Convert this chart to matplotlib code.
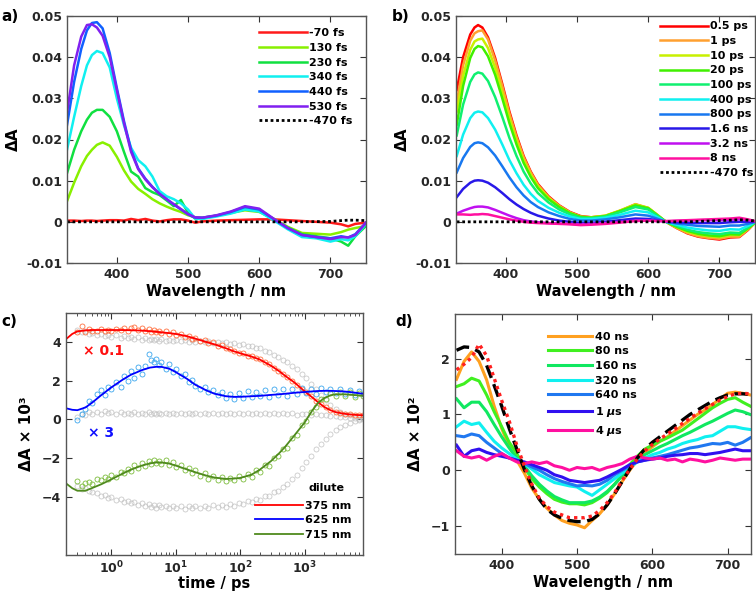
import matplotlib.pyplot as plt
import numpy as np

plt.rcParams['font.family'] = ['DejaVu Sans']
plt.rcParams['font.weight'] = 'bold'
plt.rcParams['axes.labelweight'] = 'bold'

# ---------------- panel a: early fs spectra ----------------
wl_a = [330, 340, 350, 358, 365, 372, 380, 390, 400, 410, 420, 430, 440, 450, 460, 470, 480,
        490, 500, 510, 520, 540, 560, 580, 600, 620, 640, 660, 680, 700, 715, 725, 735, 750]
labels_a = ['-70 fs', '130 fs', '230 fs', '340 fs', '440 fs', '530 fs']
colors_a = ['#ff1a1a', '#88f000', '#10e040', '#10f0f0', '#1060ff', '#8020f0']
spec_a = [
    [0.0003, 0.0003, 0.0002, 0.0003, 0.0003, 0.0002, 0.0003, 0.0004, 0.0004, 0.0003, 0.0007, 0.0004,
     0.0007, 0.0003, 0.0001, 0.0004, 0.0006, 0.0006, 0.0003, -0.0002, 0.0001, 0.0003, 0.0004, 0.0005,
     0.0006, 0.0006, 0.0004, 0.0002, 0.0000, -0.0002, -0.0006, -0.0011, -0.0005, -0.0002],
    [0.0050, 0.0095, 0.0135, 0.0160, 0.0175, 0.0187, 0.0193, 0.0185, 0.0158, 0.0125, 0.0098, 0.0080,
     0.0068, 0.0055, 0.0045, 0.0037, 0.0030, 0.0024, 0.0016, 0.0011, 0.0010, 0.0015, 0.0022, 0.0028,
     0.0024, 0.0008, -0.0012, -0.0027, -0.0029, -0.0031, -0.0025, -0.0019, -0.0015, -0.0010],
    [0.0118, 0.0175, 0.0220, 0.0248, 0.0265, 0.0272, 0.0272, 0.0255, 0.0220, 0.0170, 0.0122, 0.0110,
     0.0082, 0.0072, 0.0065, 0.0052, 0.0038, 0.0053, 0.0022, 0.0008, 0.0008, 0.0015, 0.0022, 0.0030,
     0.0026, 0.0006, -0.0014, -0.0030, -0.0035, -0.0040, -0.0048, -0.0058, -0.0035, -0.0010],
    [0.0175, 0.0255, 0.0330, 0.0380, 0.0405, 0.0415, 0.0410, 0.0375, 0.0300, 0.0235, 0.0180, 0.0150,
     0.0135, 0.0110, 0.0075, 0.0062, 0.0055, 0.0045, 0.0030, 0.0008, 0.0007, 0.0013, 0.0020, 0.0030,
     0.0025, 0.0004, -0.0018, -0.0037, -0.0040, -0.0048, -0.0042, -0.0045, -0.0035, -0.0005],
    [0.0235, 0.0340, 0.0420, 0.0465, 0.0483, 0.0485, 0.0470, 0.0410, 0.0325, 0.0245, 0.0175, 0.0130,
     0.0105, 0.0085, 0.0068, 0.0055, 0.0042, 0.0030, 0.0018, 0.0010, 0.0010, 0.0015, 0.0024, 0.0036,
     0.0030, 0.0007, -0.0015, -0.0032, -0.0037, -0.0040, -0.0035, -0.0038, -0.0030, -0.0002],
    [0.0265, 0.0380, 0.0450, 0.0478, 0.0480, 0.0472, 0.0452, 0.0400, 0.0320, 0.0240, 0.0170, 0.0128,
     0.0103, 0.0084, 0.0068, 0.0055, 0.0043, 0.0031, 0.0019, 0.0011, 0.0010, 0.0016, 0.0025, 0.0038,
     0.0032, 0.0008, -0.0015, -0.0032, -0.0037, -0.0042, -0.0037, -0.0038, -0.0032, -0.0002],
]
ref_a = [0, 0, 0, 0, 0, 0, 0, 0, 0, 0, 0, 0, 0, 0, 0, 0, 0, 0, 0, 0, 0, 0, 0, 0, 0, 0, 0, 0,
         0.00005, 0.0001, 0.0003, 0.0004, 0.0004, 0.0003]

# ---------------- panel b: ps-ns spectra ----------------
wl_b = [331, 340, 350, 356, 361, 367, 375, 385, 395, 405, 415, 425, 435, 445, 460, 475, 490,
        505, 520, 540, 560, 582, 600, 612, 625, 640, 655, 670, 685, 700, 715, 728, 740, 750]
labels_b = ['0.5 ps', '1 ps', '10 ps', '20 ps', '100 ps', '400 ps', '800 ps', '1.6 ns', '3.2 ns', '8 ns']
colors_b = ['#ff0000', '#ffa030', '#c8f000', '#40f000', '#10f070', '#10f0f0', '#1878f0', '#2818e8',
            '#c010f0', '#ff10a0']
spec_b = [
    [0.0320, 0.0400, 0.0455, 0.0472, 0.0478, 0.0472, 0.0448, 0.0398, 0.0335, 0.0268, 0.0210, 0.0160,
     0.0122, 0.0092, 0.0062, 0.0040, 0.0024, 0.0014, 0.0011, 0.0014, 0.0026, 0.0042, 0.0033, 0.0017,
     0.0000, -0.0015, -0.0028, -0.0036, -0.0040, -0.0043, -0.0038, -0.0037, -0.0020, -0.0002],
    [0.0290, 0.0380, 0.0440, 0.0458, 0.0463, 0.0465, 0.0443, 0.0392, 0.0330, 0.0263, 0.0206, 0.0157,
     0.0120, 0.0090, 0.0060, 0.0039, 0.0023, 0.0013, 0.0011, 0.0015, 0.0027, 0.0043, 0.0034, 0.0018,
     0.0000, -0.0015, -0.0027, -0.0035, -0.0039, -0.0041, -0.0036, -0.0036, -0.0019, -0.0002],
    [0.0268, 0.0355, 0.0418, 0.0438, 0.0443, 0.0445, 0.0422, 0.0374, 0.0314, 0.0251, 0.0196, 0.0149,
     0.0114, 0.0086, 0.0058, 0.0037, 0.0022, 0.0012, 0.0011, 0.0015, 0.0027, 0.0042, 0.0034, 0.0018,
     0.0000, -0.0013, -0.0024, -0.0031, -0.0035, -0.0037, -0.0032, -0.0032, -0.0017, -0.0002],
    [0.0235, 0.0330, 0.0398, 0.0420, 0.0427, 0.0424, 0.0402, 0.0357, 0.0300, 0.0240, 0.0188, 0.0143,
     0.0109, 0.0082, 0.0055, 0.0036, 0.0021, 0.0012, 0.0010, 0.0014, 0.0026, 0.0040, 0.0033, 0.0017,
     0.0000, -0.0012, -0.0022, -0.0029, -0.0033, -0.0035, -0.0030, -0.0031, -0.0016, -0.0002],
    [0.0210, 0.0285, 0.0340, 0.0358, 0.0363, 0.0360, 0.0342, 0.0303, 0.0255, 0.0204, 0.0160, 0.0122,
     0.0093, 0.0070, 0.0047, 0.0030, 0.0018, 0.0010, 0.0009, 0.0013, 0.0023, 0.0036, 0.0030, 0.0016,
     0.0000, -0.0010, -0.0019, -0.0025, -0.0028, -0.0030, -0.0026, -0.0027, -0.0014, -0.0001],
    [0.0160, 0.0212, 0.0252, 0.0265, 0.0268, 0.0266, 0.0252, 0.0224, 0.0188, 0.0150, 0.0118, 0.0090,
     0.0068, 0.0051, 0.0034, 0.0022, 0.0013, 0.0007, 0.0007, 0.0010, 0.0017, 0.0027, 0.0023, 0.0012,
     0.0000, -0.0007, -0.0014, -0.0018, -0.0021, -0.0022, -0.0018, -0.0019, -0.0010, -0.0001],
    [0.0120, 0.0155, 0.0182, 0.0191, 0.0193, 0.0191, 0.0181, 0.0161, 0.0135, 0.0108, 0.0084, 0.0064,
     0.0048, 0.0036, 0.0023, 0.0014, 0.0007, 0.0003, 0.0003, 0.0006, 0.0011, 0.0018, 0.0015, 0.0008,
     0.0000, -0.0004, -0.0007, -0.0010, -0.0011, -0.0012, -0.0009, -0.0009, -0.0005, 0.0000],
    [0.0060, 0.0080, 0.0095, 0.0100, 0.0101, 0.0100, 0.0095, 0.0084, 0.0070, 0.0055, 0.0042, 0.0031,
     0.0022, 0.0015, 0.0008, 0.0003, 0.0000, -0.0003, -0.0003, 0.0000, 0.0004, 0.0008, 0.0007, 0.0004,
     0.0001, -0.0001, -0.0002, -0.0003, -0.0003, -0.0003, -0.0001, 0.0000, 0.0000, 0.0000],
    [0.0020, 0.0027, 0.0033, 0.0036, 0.0037, 0.0037, 0.0035, 0.0029, 0.0022, 0.0015, 0.0009, 0.0004,
     0.0001, -0.0001, -0.0003, -0.0004, -0.0005, -0.0006, -0.0005, -0.0003, 0.0000, 0.0003, 0.0003,
     0.0002, 0.0001, 0.0002, 0.0003, 0.0004, 0.0004, 0.0004, 0.0005, 0.0006, 0.0004, 0.0001],
    [0.0018, 0.0018, 0.0017, 0.0018, 0.0018, 0.0019, 0.0018, 0.0014, 0.0010, 0.0006, 0.0003, 0.0000,
     -0.0002, -0.0003, -0.0004, -0.0005, -0.0006, -0.0008, -0.0007, -0.0005, -0.0002, 0.0002, 0.0003,
     0.0002, 0.0002, 0.0003, 0.0004, 0.0005, 0.0006, 0.0007, 0.0008, 0.0010, 0.0006, 0.0002],
]
ref_b = [0, 0, 0, 0, 0, 0, 0, 0, 0, 0, 0, 0, 0, 0, 0, 0, 0, 0, 0, 0, 0, 0, 0, 0, 0, 0, 0,
         0.0001, 0.0002, 0.0003, 0.0004, 0.0005, 0.0004, 0.0002]

# ---------------- panel c: kinetics ----------------
t_pts = [0.3, 0.35, 0.4, 0.45, 0.5, 0.6, 0.7, 0.8, 0.9, 1.0,
         1.2, 1.4, 1.6, 1.8, 2.0, 2.3, 2.6, 3.0, 3.4, 3.8,
         4.2, 4.6, 5.0, 5.5, 6, 7, 8, 9, 10, 12,
         14, 16, 18, 20, 24, 28, 32, 38, 45, 52,
         60, 70, 80, 95, 110, 130, 150, 175, 200, 240,
         280, 330, 390, 460, 540, 640, 760, 900, 1050, 1250,
         1500, 1800, 2100, 2500, 3000, 3500, 4200, 5000, 6000, 7000,
         8000]
red_pts = [4.50, 4.85, 4.52, 4.66, 4.58, 4.55, 4.68, 4.57, 4.64, 4.55,
           4.66, 4.60, 4.70, 4.58, 4.72, 4.80, 4.62, 4.70, 4.55, 4.65,
           4.52, 4.62, 4.50, 4.58, 4.45, 4.55, 4.42, 4.50, 4.38, 4.40,
           4.28, 4.30, 4.18, 4.22, 4.05, 4.08, 3.95, 3.98, 3.82, 3.85,
           3.70, 3.62, 3.55, 3.45, 3.42, 3.30, 3.28, 3.15, 3.12, 2.95,
           2.85, 2.68, 2.50, 2.35, 2.18, 2.00, 1.80, 1.58, 1.40, 1.20,
           0.98, 0.78, 0.62, 0.50, 0.40, 0.34, 0.30, 0.26, 0.24, 0.22,
           0.22]
blue_pts = [-0.05, 0.30, 0.55, 0.95, 0.85, 1.30, 1.50, 1.25, 1.70, 1.55,
            1.95, 1.70, 2.25, 2.00, 2.50, 2.15, 2.70, 2.35, 2.75, 3.40,
            3.05, 2.95, 3.10, 2.80, 2.95, 2.60, 2.85, 2.45, 2.60, 2.25,
            2.35, 1.95, 2.05, 1.75, 1.60, 1.70, 1.40, 1.50, 1.25, 1.40,
            1.10, 1.30, 1.05, 1.35, 1.10, 1.45, 1.15, 1.40, 1.20, 1.50,
            1.15, 1.55, 1.25, 1.60, 1.20, 1.55, 1.30, 1.65, 1.35, 1.60,
            1.30, 1.65, 1.40, 1.60, 1.35, 1.55, 1.30, 1.50, 1.25, 1.45,
            1.30]
green_pts = [-3.20, -3.45, -3.30, -3.25, -3.35, -3.05, -3.15, -2.95, -3.05, -2.85,
             -2.95, -2.70, -2.75, -2.55, -2.65, -2.35, -2.50, -2.25, -2.40, -2.15,
             -2.30, -2.10, -2.25, -2.15, -2.30, -2.10, -2.35, -2.20, -2.45, -2.35,
             -2.60, -2.50, -2.75, -2.60, -2.90, -2.75, -3.05, -2.90, -3.15, -2.95,
             -3.20, -3.00, -3.15, -2.90, -3.10, -2.80, -2.95, -2.60, -2.70, -2.35,
             -2.40, -2.00, -1.90, -1.50, -1.45, -0.95, -0.80, -0.30, -0.10, 0.40,
             0.65, 1.05, 1.05, 1.35, 1.20, 1.40, 1.20, 1.40, 1.15, 1.35,
             1.20]
grey_hi = [4.62, 4.50, 4.55, 4.42, 4.48, 4.35, 4.42, 4.30, 4.38, 4.28,
           4.35, 4.22, 4.30, 4.20, 4.28, 4.15, 4.25, 4.12, 4.22, 4.10,
           4.18, 4.08, 4.16, 4.06, 4.14, 4.05, 4.13, 4.04, 4.12, 4.03,
           4.10, 4.02, 4.08, 4.00, 4.06, 3.98, 4.04, 3.95, 4.02, 3.93,
           3.98, 3.90, 3.95, 3.86, 3.90, 3.80, 3.82, 3.70, 3.68, 3.55,
           3.50, 3.35, 3.25, 3.05, 2.95, 2.75, 2.60, 2.35, 2.15, 1.85,
           1.55, 1.25, 1.00, 0.75, 0.55, 0.40, 0.30, 0.22, 0.18, 0.14,
           0.12]
grey_mid = [0.15, 0.30, 0.22, 0.38, 0.28, 0.40, 0.30, 0.42, 0.32, 0.40,
            0.30, 0.38, 0.28, 0.36, 0.30, 0.38, 0.28, 0.35, 0.30, 0.38,
            0.28, 0.35, 0.30, 0.36, 0.28, 0.34, 0.30, 0.36, 0.28, 0.35,
            0.30, 0.34, 0.28, 0.35, 0.30, 0.34, 0.28, 0.33, 0.30, 0.35,
            0.28, 0.33, 0.30, 0.34, 0.27, 0.32, 0.30, 0.34, 0.27, 0.32,
            0.28, 0.33, 0.26, 0.31, 0.28, 0.32, 0.25, 0.30, 0.28, 0.25,
            0.30, 0.22, 0.25, 0.18, 0.20, 0.12, 0.15, 0.08, 0.10, 0.05,
            0.08]
grey_lo = [-3.45, -3.60, -3.55, -3.70, -3.75, -3.80, -3.95, -3.90, -4.05, -4.00,
           -4.15, -4.10, -4.25, -4.20, -4.30, -4.25, -4.40, -4.30, -4.45, -4.35,
           -4.50, -4.40, -4.55, -4.42, -4.50, -4.45, -4.58, -4.45, -4.55, -4.48,
           -4.60, -4.45, -4.55, -4.48, -4.58, -4.45, -4.55, -4.42, -4.52, -4.40,
           -4.50, -4.38, -4.45, -4.30, -4.38, -4.22, -4.28, -4.10, -4.15, -3.95,
           -3.95, -3.75, -3.70, -3.50, -3.35, -3.10, -2.85, -2.50, -2.20, -1.90,
           -1.55, -1.25, -1.00, -0.75, -0.55, -0.40, -0.28, -0.18, -0.10, -0.05,
           0.00]
t_fit = [0.2, 0.25, 0.3, 0.4, 0.5, 0.7, 1, 1.5, 2, 3,
         4, 5, 6, 8, 10, 15, 20, 30, 40, 60,
         80, 100, 150, 200, 300, 400, 500, 700, 1000, 1300,
         1600, 2000, 2500, 3000, 4000, 5000, 6500, 8000]
red_fit = [4.15, 4.42, 4.55, 4.60, 4.62, 4.62, 4.62, 4.62, 4.61, 4.59,
           4.56, 4.53, 4.50, 4.46, 4.42, 4.30, 4.18, 4.00, 3.88, 3.68,
           3.52, 3.42, 3.25, 3.10, 2.78, 2.50, 2.25, 1.90, 1.45, 1.15,
           0.90, 0.65, 0.48, 0.38, 0.30, 0.26, 0.23, 0.22]
blue_fit = [0.58, 0.50, 0.48, 0.62, 0.85, 1.25, 1.65, 2.05, 2.30, 2.55,
            2.68, 2.72, 2.72, 2.62, 2.45, 2.10, 1.80, 1.50, 1.33, 1.20,
            1.17, 1.17, 1.20, 1.22, 1.27, 1.30, 1.33, 1.38, 1.42, 1.45,
            1.47, 1.48, 1.48, 1.47, 1.45, 1.42, 1.37, 1.33]
green_fit = [-3.30, -3.55, -3.68, -3.68, -3.55, -3.35, -3.10, -2.80, -2.60, -2.38,
             -2.27, -2.22, -2.22, -2.28, -2.38, -2.58, -2.72, -2.90, -3.00, -3.07,
             -3.05, -3.02, -2.85, -2.60, -2.15, -1.75, -1.40, -0.80, -0.15, 0.45,
             0.85, 1.10, 1.25, 1.30, 1.30, 1.28, 1.25, 1.22]

# ---------------- panel d: ns-us spectra (x 10^2) ----------------
wl_d = [340, 350, 360, 370, 380, 390, 400, 410, 420, 430, 440, 450, 460, 470, 480, 490, 500, 510,
        520, 530, 540, 550, 560, 570, 580, 590, 600, 610, 620, 630, 640, 650, 660, 670, 680, 690,
        700, 710, 720, 730]
labels_d = ['40 ns', '80 ns', '160 ns', '320 ns', '640 ns', r'1 $\mu$s', r'4 $\mu$s']
colors_d = ['#ffa020', '#40f020', '#10e860', '#10f0f0', '#2078f0', '#3010f0', '#ff10a0']
spec_d = [
    [1.63, 1.95, 2.12, 1.95, 1.62, 1.15, 0.75, 0.42, 0.18, -0.05, -0.32, -0.52, -0.68, -0.80,
     -0.90, -0.95, -0.98, -1.03, -0.90, -0.78, -0.62, -0.42, -0.20, 0.00, 0.18, 0.32, 0.42, 0.52,
     0.60, 0.70, 0.80, 0.90, 1.00, 1.08, 1.18, 1.28, 1.38, 1.40, 1.38, 1.35],
    [1.50, 1.55, 1.65, 1.60, 1.35, 1.05, 0.78, 0.50, 0.30, 0.05, -0.15, -0.30, -0.42, -0.52,
     -0.57, -0.60, -0.60, -0.62, -0.58, -0.50, -0.40, -0.25, -0.08, 0.10, 0.25, 0.38, 0.45, 0.52,
     0.58, 0.65, 0.72, 0.82, 0.92, 1.02, 1.12, 1.20, 1.27, 1.30, 1.22, 1.15],
    [1.28, 1.12, 1.22, 1.22, 1.05, 0.82, 0.60, 0.40, 0.22, 0.08, -0.10, -0.25, -0.37, -0.47,
     -0.53, -0.58, -0.58, -0.58, -0.55, -0.48, -0.38, -0.25, -0.10, 0.05, 0.18, 0.28, 0.35, 0.42,
     0.48, 0.55, 0.62, 0.68, 0.75, 0.82, 0.88, 0.95, 1.02, 1.08, 1.05, 1.00],
    [0.78, 0.88, 0.82, 0.85, 0.68, 0.52, 0.40, 0.30, 0.20, 0.12, 0.02, -0.08, -0.15, -0.22,
     -0.25, -0.28, -0.30, -0.38, -0.45, -0.35, -0.25, -0.15, -0.05, 0.05, 0.15, 0.22, 0.28, 0.32,
     0.38, 0.42, 0.48, 0.52, 0.55, 0.60, 0.62, 0.70, 0.78, 0.78, 0.75, 0.73],
    [0.62, 0.60, 0.65, 0.62, 0.50, 0.40, 0.30, 0.22, 0.18, 0.12, 0.06, 0.00, -0.08, -0.15,
     -0.20, -0.24, -0.28, -0.27, -0.28, -0.25, -0.18, -0.08, 0.00, 0.08, 0.15, 0.18, 0.22, 0.25,
     0.28, 0.32, 0.36, 0.40, 0.42, 0.45, 0.48, 0.47, 0.50, 0.45, 0.50, 0.58],
    [0.45, 0.25, 0.35, 0.38, 0.32, 0.28, 0.25, 0.22, 0.18, 0.15, 0.10, 0.05, 0.00, -0.08,
     -0.12, -0.18, -0.20, -0.22, -0.20, -0.18, -0.12, -0.05, 0.02, 0.10, 0.15, 0.18, 0.20, 0.22,
     0.25, 0.27, 0.28, 0.30, 0.30, 0.28, 0.30, 0.32, 0.35, 0.38, 0.35, 0.35],
    [0.35, 0.25, 0.22, 0.25, 0.18, 0.25, 0.30, 0.22, 0.15, 0.12, 0.15, 0.12, 0.15, 0.08,
     0.05, 0.00, 0.05, 0.03, 0.05, 0.00, 0.05, 0.08, 0.12, 0.20, 0.25, 0.22, 0.20, 0.22,
     0.18, 0.20, 0.15, 0.20, 0.18, 0.15, 0.18, 0.22, 0.20, 0.18, 0.20, 0.20],
]
fit_d_black = [2.15, 2.21, 2.20, 2.12, 1.88, 1.52, 1.15, 0.75, 0.38, 0.02, -0.28, -0.52, -0.70,
               -0.80, -0.86, -0.90, -0.92, -0.92, -0.88, -0.78, -0.62, -0.42, -0.20, 0.02, 0.22,
               0.38, 0.50, 0.60, 0.70, 0.80, 0.90, 1.00, 1.08, 1.16, 1.24, 1.30, 1.35, 1.37, 1.37,
               1.36]
fit_d_red = [1.80, 1.90, 2.02, 2.26, 2.05, 1.65, 1.25, 0.88, 0.45, 0.08, -0.25, -0.50, -0.65,
             -0.75, -0.80, -0.85, -0.85, -0.85, -0.82, -0.72, -0.58, -0.40, -0.18, 0.02, 0.20,
             0.35, 0.46, 0.56, 0.65, 0.74, 0.84, 0.93, 1.02, 1.10, 1.18, 1.26, 1.32, 1.37, 1.38,
             1.37]

# ---------------- figure ----------------
fig = plt.figure(figsize=(7.56, 5.98), dpi=100)
ax_a = fig.add_axes([67/756, 1-263/598, 299/756, 247/598])
ax_b = fig.add_axes([456/756, 1-263/598, 299/756, 247/598])
ax_c = fig.add_axes([66/756, 1-555/598, 297/756, 242/598])
ax_d = fig.add_axes([455/756, 1-554/598, 296/756, 240/598])


def style(ax):
    for s in ax.spines.values():
        s.set_color('#555555')
        s.set_linewidth(1.0)
    ax.tick_params(which='both', direction='in', top=True, right=True, color='#333333',
                   labelsize=9, labelcolor='#262626')
    ax.tick_params(which='major', length=4, width=0.8)
    ax.tick_params(which='minor', length=2, width=0.6)


leg_kw = dict(frameon=False, fontsize=8, loc='upper left', borderaxespad=0, borderpad=0,
              handletextpad=0.2, labelspacing=0.42)

# a)
for y, lab, c in zip(spec_a, labels_a, colors_a):
    ax_a.plot(wl_a, y, color=c, lw=1.8, label=lab)
ax_a.plot(wl_a, ref_a, color='black', lw=2, ls=(0, (1, 1)), label='-470 fs')
ax_a.set_xlim(330, 750)
ax_a.set_ylim(-0.01, 0.05)
ax_a.set_xticks([400, 500, 600, 700])
ax_a.set_yticks([-0.01, 0, 0.01, 0.02, 0.03, 0.04, 0.05])
ax_a.set_yticklabels(['-0.01', '0', '0.01', '0.02', '0.03', '0.04', '0.05'])
ax_a.set_xlabel('Wavelength / nm', fontsize=10.5, labelpad=2)
ax_a.set_ylabel('ΔA', fontsize=11, labelpad=4)
ax_a.legend(bbox_to_anchor=(0.642, 0.95), handlelength=4.3, **leg_kw)
style(ax_a)

# b)
for y, lab, c in zip(spec_b, labels_b, colors_b):
    ax_b.plot(wl_b, y, color=c, lw=1.8, label=lab)
ax_b.plot(wl_b, ref_b, color='black', lw=2, ls=(0, (1, 1)), label='-470 fs')
ax_b.set_xlim(330, 750)
ax_b.set_ylim(-0.01, 0.05)
ax_b.set_xticks([400, 500, 600, 700])
ax_b.set_yticks([-0.01, 0, 0.01, 0.02, 0.03, 0.04, 0.05])
ax_b.set_yticklabels(['-0.01', '0', '0.01', '0.02', '0.03', '0.04', '0.05'])
ax_b.set_xlabel('Wavelength / nm', fontsize=10.5, labelpad=2)
ax_b.set_ylabel('ΔA', fontsize=11, labelpad=4)
ax_b.legend(bbox_to_anchor=(0.682, 0.978), handlelength=4.3, **leg_kw)
style(ax_b)

# c)
mk = dict(ls='none', marker='o', mfc='none', ms=3.6, mew=0.6)
for g in (grey_hi, grey_mid, grey_lo):
    ax_c.plot(t_pts, g, color='#bdbdbd', alpha=0.8, **mk)
ax_c.plot(t_pts, red_pts, color='#ff7040', **mk)
ax_c.plot(t_pts, blue_pts, color='#3aa6ee', **mk)
ax_c.plot(t_pts, green_pts, color='#7cbc3c', **mk)
l1, = ax_c.plot(t_fit, red_fit, color='#ff0000', lw=1.3)
l2, = ax_c.plot(t_fit, blue_fit, color='#0000ff', lw=1.3)
l3, = ax_c.plot(t_fit, green_fit, color='#4f8a1e', lw=1.3)
ax_c.set_xscale('log')
ax_c.set_xlim(0.2, 8000)
ax_c.set_ylim(-7, 5.5)
ax_c.set_yticks([-4, -2, 0, 2, 4])
ax_c.set_xticks([1, 10, 100, 1000])
ax_c.set_xticklabels([r'$\mathbf{10^0}$', r'$\mathbf{10^1}$', r'$\mathbf{10^2}$', r'$\mathbf{10^3}$'])
ax_c.set_xlabel('time / ps', fontsize=10.5, labelpad=0)
ax_c.set_ylabel('ΔA × 10³', fontsize=11, labelpad=6)
ax_c.text(0.37, 3.55, '× 0.1', color='#ff1010', fontsize=10, va='center')
ax_c.text(0.44, -0.72, '× 3', color='#1010ff', fontsize=10, va='center')
ax_c.text(0.818, 0.277, 'dilute', transform=ax_c.transAxes, fontsize=8, va='center')
ax_c.legend([l1, l2, l3], ['375 nm', '625 nm', '715 nm'], bbox_to_anchor=(0.636, 0.225),
            handlelength=4.3, **leg_kw)
style(ax_c)

# d)
for y, lab, c in zip(spec_d, labels_d, colors_d):
    ax_d.plot(wl_d, y, color=c, lw=2.2, label=lab)
ax_d.plot(wl_d, fit_d_black, color='black', lw=2.4, ls=(0, (4, 2)))
ax_d.plot(wl_d, fit_d_red, color='#ff2020', lw=2.4, ls=(0, (1, 1.2)))
ax_d.set_xlim(338, 731)
ax_d.set_ylim(-1.5, 2.8)
ax_d.set_xticks([400, 500, 600, 700])
ax_d.set_yticks([-1, 0, 1, 2])
ax_d.set_xlabel('Wavelength / nm', fontsize=10.5, labelpad=2)
ax_d.set_ylabel('ΔA × 10²', fontsize=11, labelpad=6)
handles_d, _ = ax_d.get_legend_handles_labels()
ax_d.legend(handles_d, labels_d, bbox_to_anchor=(0.314, 0.927), handlelength=4.0, **leg_kw)
style(ax_d)

# panel letters
fig.text(0.002, 0.985, 'a)', fontsize=11, va='top')
fig.text(0.518, 0.985, 'b)', fontsize=11, va='top')
fig.text(0.002, 0.475, 'c)', fontsize=11, va='top')
fig.text(0.523, 0.475, 'd)', fontsize=11, va='top')

fig.savefig('out.png', dpi=100)
